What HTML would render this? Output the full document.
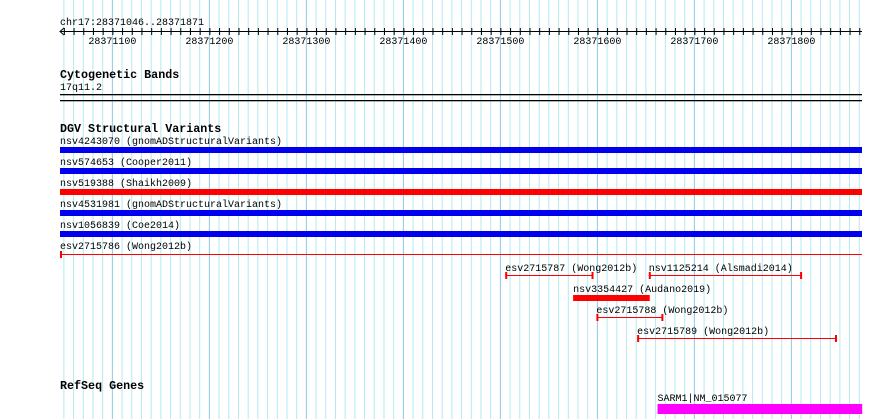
<!DOCTYPE html>
<html><head><meta charset="utf-8"><style>
body{margin:0;background:#fff;}
svg{display:block;font-family:"Liberation Mono",monospace;}
</style></head><body>
<svg id="c" width="890" height="419" xmlns="http://www.w3.org/2000/svg">
<g id="grid"></g>
<g id="ruler"></g>
<g id="tracks"></g>
</svg>
<script>
const startBp = 28371046;
const endBp = 28371871;
const tickLabels = [28371100, 28371200, 28371300, 28371400, 28371500, 28371600, 28371700, 28371800];
const fullNames = ["nsv4243070 (gnomADStructuralVariants)", "nsv574653 (Cooper2011)", "nsv519388 (Shaikh2009)", "nsv4531981 (gnomADStructuralVariants)", "nsv1056839 (Coe2014)"];
const fullColors = ["#0000ee", "#0000ee", "#ff0000", "#0000ee", "#0000ee"];
const smallNames = ["esv2715787 (Wong2012b)", "nsv1125214 (Alsmadi2014)", "nsv3354427 (Audano2019)", "esv2715788 (Wong2012b)", "esv2715789 (Wong2012b)"];
const smallStarts = [28371505, 28371653, 28371575, 28371599, 28371641];
const smallEnds = [28371595, 28371810, 28371654, 28371667, 28371846];
const smallRows = [0, 0, 1, 2, 3];
const smallThick = [false, false, true, false, false];
const geneName = "SARM1|NM_015077";
const geneStart = 28371662;
const geneEnd = 28371873;

const NS = "http://www.w3.org/2000/svg";
const x = bp => 60 + (bp - startBp) * 0.97;
function mk(parent, tag, attrs, text){
  const e = document.createElementNS(NS, tag);
  for (const k in attrs) e.setAttribute(k, attrs[k]);
  if (text !== undefined) e.textContent = text;
  document.getElementById(parent).appendChild(e);
  return e;
}
// grid
for (let bp = Math.ceil(startBp/10)*10; bp <= endBp; bp += 10) {
  const major = bp % 100 === 0;
  const l = mk("grid", "line", {x1:x(bp), x2:x(bp), y1:0, y2:419, stroke: major ? "#8ccbe8" : "#b4eaf0", "stroke-width":1});
  
  
}
// ruler
let t = mk("ruler", "text", {x:60, y:25, "font-size":"10px"}, "chr17:" + startBp + ".." + endBp);


let rl = mk("ruler", "line", {x1:60, x2:862, y1:31.5, y2:31.5, stroke:"#000"});


let ar = mk("ruler", "path", {d:"M64,28 L60,31.5 L64,35", fill:"none", stroke:"#000"});


for (let bp = Math.ceil(startBp/10)*10; bp <= endBp; bp += 10) {
  const tk = mk("ruler", "line", {x1:x(bp)+0.5, x2:x(bp)+0.5, y1:28, y2:35, stroke:"#000"});
  
  
}
tickLabels.forEach(v => {
  const tl = mk("ruler", "text", {x:x(v), y:44, "font-size":"10px", "text-anchor":"middle"}, String(v));
  
  
});
// cytoband
let h1 = mk("tracks", "text", {x:60, y:78, "font-size":"11.7px", "font-weight":"bold"}, "Cytogenetic Bands");


let cb = mk("tracks", "text", {x:60, y:90, "font-size":"10px"}, "17q11.2");


[94, 100].forEach(y => {
  const l = mk("tracks", "rect", {x:60, y:y, width:802, height:1.3, fill:"#000"});
  
  
});
// DGV
let h2 = mk("tracks", "text", {x:60, y:132, "font-size":"11.7px", "font-weight":"bold"}, "DGV Structural Variants");


fullNames.forEach((n, i) => {
  const y0 = 147 + i * 21;
  const lb = mk("tracks", "text", {x:60, y:y0-3, "font-size":"10px"}, n);
  
  
  const b = mk("tracks", "rect", {x:60, y:y0, width:802, height:6, fill:fullColors[i]});
  
  
});
let lb6 = mk("tracks", "text", {x:60, y:249, "font-size":"10px"}, "esv2715786 (Wong2012b)");


let ln6 = mk("tracks", "rect", {x:60, y:254, width:802, height:1, fill:"#ff0000"});


let tk6 = mk("tracks", "rect", {x:60, y:251, width:2, height:7, fill:"#ff0000"});


smallNames.forEach((n, i) => {
  const yc = 275 + smallRows[i] * 21;
  const x1 = x(smallStarts[i]), x2 = x(smallEnds[i]);
  const lb = mk("tracks", "text", {x:x1, y:yc-4, "font-size":"10px"}, n);
  
  
  if (smallThick[i]) {
    const b = mk("tracks", "rect", {x:x1, y:yc-1, width:x2-x1, height:6, fill:"#ff0000"});
    
    
  } else {
    const b = mk("tracks", "rect", {x:x1, y:yc, width:x2-x1, height:1, fill:"#ff0000"});
    
    
    [x1, x2-1].forEach(xx => {
      const e = mk("tracks", "rect", {x:xx, y:yc-3, width:2, height:7, fill:"#ff0000"});
      
      
    });
  }
});
// RefSeq
let h3 = mk("tracks", "text", {x:60, y:389, "font-size":"11.7px", "font-weight":"bold"}, "RefSeq Genes");


let gl = mk("tracks", "text", {x:x(geneStart), y:401, "font-size":"10px"}, geneName);


let gb = mk("tracks", "rect", {x:x(geneStart), y:404, width:x(geneEnd)-x(geneStart), height:10, fill:"#ff00ff"});


</script>
</body></html>
